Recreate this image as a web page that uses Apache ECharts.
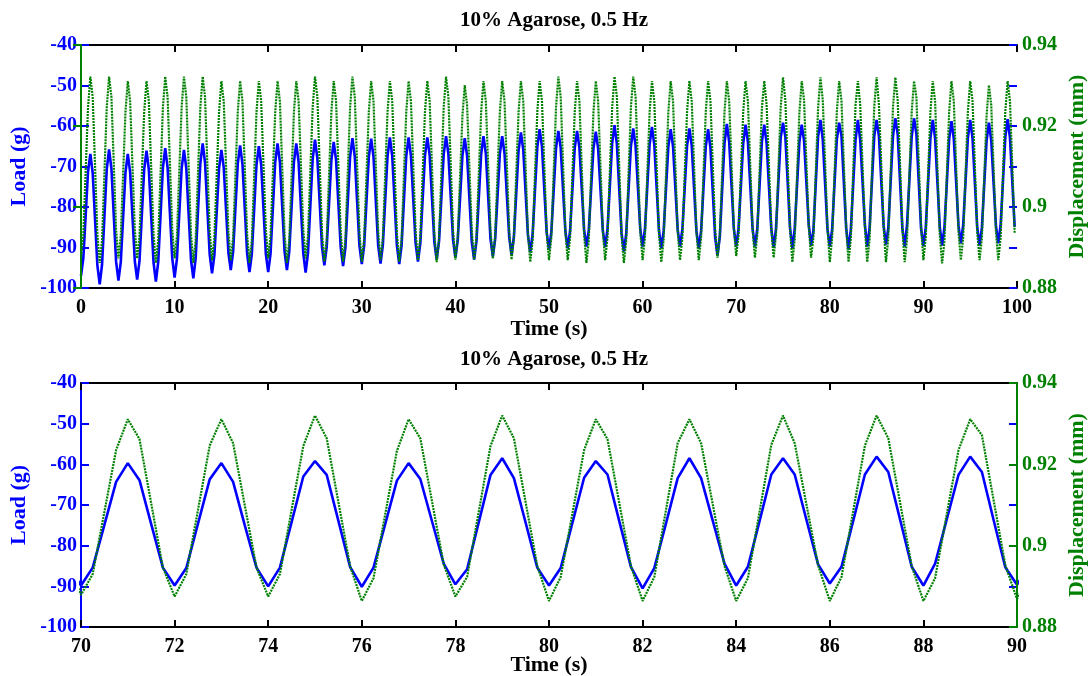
<!DOCTYPE html>
<html>
<head>
<meta charset="utf-8">
<script src="https://cdn.jsdelivr.net/npm/echarts@6/dist/echarts.min.js"></script>
<style>html,body{margin:0;padding:0;background:#fff}#c{width:1090px;height:676px}</style>
</head>
<body>
<div id="c"></div>
<script>
const chartTitle = "10% Agarose, 0.5 Hz";
const xName = "Time (s)";
const loadName = "Load (g)";
const dispName = "Displacement (mm)";
const sampleInterval = 0.25; // s, 8 samples per 2 s cycle
// Load (g), one row per 2 s cycle, starting at t = 0
const loadG = [
-97.0,-92.6,-82.0,-71.3,-66.9,-71.6,-83.0,-94.4,
-99.1,-94.2,-82.5,-70.7,-65.8,-70.5,-82.0,-93.5,
-98.2,-93.6,-82.6,-71.5,-66.9,-71.4,-82.4,-93.4,
-97.9,-93.3,-82.0,-70.7,-66.1,-70.8,-82.3,-93.7,
-98.4,-93.6,-82.0,-70.3,-65.5,-70.2,-81.5,-92.7,
-97.4,-92.8,-81.7,-70.5,-65.9,-70.5,-81.8,-93.0,
-97.6,-92.7,-81.0,-69.2,-64.3,-69.0,-80.4,-91.7,
-96.4,-91.9,-81.2,-70.4,-65.9,-70.2,-80.8,-91.3,
-95.6,-91.1,-80.2,-69.3,-64.8,-69.4,-80.5,-91.5,
-96.1,-91.6,-80.6,-69.5,-65.0,-69.5,-80.6,-91.6,
-96.1,-91.5,-80.2,-68.9,-64.3,-68.9,-80.0,-91.0,
-95.6,-91.0,-80.0,-68.9,-64.3,-69.0,-80.3,-91.5,
-96.2,-91.4,-79.8,-68.2,-63.4,-67.9,-78.9,-89.9,
-94.4,-89.9,-79.2,-68.4,-63.9,-68.4,-79.3,-90.1,
-94.6,-90.0,-78.8,-67.6,-63.0,-67.5,-78.6,-89.6,
-94.1,-89.6,-78.6,-67.6,-63.1,-67.6,-78.6,-89.5,
-94.0,-89.4,-78.4,-67.4,-62.8,-67.4,-78.5,-89.5,
-94.1,-89.5,-78.5,-67.4,-62.8,-67.3,-78.2,-89.0,
-93.5,-89.0,-78.2,-67.3,-62.8,-67.2,-77.9,-88.6,
-93.0,-88.5,-77.8,-67.0,-62.5,-66.9,-77.5,-88.1,
-92.5,-88.2,-77.8,-67.3,-63.0,-67.4,-78.0,-88.6,
-93.0,-88.5,-77.8,-67.0,-62.5,-66.8,-77.4,-87.9,
-92.2,-87.9,-77.4,-66.8,-62.5,-66.8,-77.2,-87.5,
-91.8,-87.4,-76.7,-66.0,-61.6,-65.9,-76.4,-86.9,
-91.2,-86.8,-76.0,-65.2,-60.8,-65.1,-75.7,-86.2,
-90.5,-86.2,-75.9,-65.5,-61.2,-65.4,-75.7,-86.0,
-90.2,-86.0,-75.7,-65.4,-61.2,-65.4,-75.5,-85.6,
-89.8,-85.7,-75.6,-65.5,-61.4,-65.6,-75.7,-85.7,
-89.9,-85.5,-74.9,-64.2,-59.8,-64.4,-75.4,-86.4,
-91.0,-86.6,-75.8,-65.0,-60.6,-64.9,-75.2,-85.5,
-89.8,-85.5,-75.0,-64.5,-60.2,-64.6,-75.2,-85.8,
-90.2,-85.9,-75.5,-65.1,-60.8,-65.0,-75.3,-85.6,
-89.8,-85.5,-75.2,-64.9,-60.6,-64.9,-75.4,-85.9,
-90.2,-85.9,-75.5,-65.1,-60.8,-65.4,-76.4,-87.4,
-92.0,-87.3,-75.8,-64.2,-59.5,-63.9,-74.7,-85.4,
-89.8,-85.4,-74.9,-64.3,-59.7,-63.9,-74.7,-85.4,
-89.8,-85.5,-74.6,-63.7,-59.7,-64.3,-75.0,-85.4,
-90.0,-85.4,-74.2,-63.0,-59.2,-62.6,-73.9,-85.2,
-90.1,-85.4,-74.7,-64.0,-59.7,-63.6,-74.0,-84.4,
-89.5,-85.8,-74.2,-62.6,-58.5,-63.4,-74.3,-85.4,
-89.8,-85.5,-74.4,-63.3,-59.2,-62.5,-73.9,-85.2,
-90.5,-85.5,-74.5,-63.4,-58.5,-63.4,-73.9,-84.4,
-89.8,-85.2,-73.9,-62.5,-58.5,-62.5,-73.6,-84.6,
-89.3,-85.2,-73.9,-62.5,-58.1,-61.9,-73.5,-85.2,
-89.8,-84.4,-73.5,-62.6,-58.1,-61.9,-73.7,-85.3,
-89.6,-85.1,-74.1,-63.0,-58.5,-63.0,-74.0,-85.0,
-89.5,-85.0,-74.2,-63.3,-58.8,-63.2,-73.9,-84.6,
-89.0,-84.5,-73.8,-63.0,-58.5,-63.0,-74.0,-85.0,
-89.5,-85.1,-74.4,-63.6,-59.2,-63.6,-74.1,-84.6,
-89.0,-84.5,-73.7,-62.8,-58.3,-62.9,-73.9,-84.9
];
// Displacement (mm), same sample times
const dispMm = [
.8877,.8932,.9090,.9246,.9322,.9272,.9102,.8932,
.8862,.8917,.9082,.9246,.9322,.9272,.9108,.8943,
.8873,.8928,.9082,.9235,.9311,.9261,.9102,.8943,
.8873,.8928,.9082,.9235,.9311,.9261,.9097,.8932,
.8862,.8917,.9082,.9246,.9322,.9272,.9108,.8943,
.8873,.8928,.9088,.9246,.9322,.9272,.9102,.8932,
.8862,.8917,.9082,.9246,.9322,.9272,.9105,.8938,
.8868,.8923,.9080,.9235,.9311,.9261,.9100,.8938,
.8868,.8923,.9080,.9235,.9311,.9261,.9097,.8932,
.8862,.8917,.9077,.9235,.9311,.9261,.9102,.8943,
.8873,.8928,.9082,.9235,.9311,.9261,.9097,.8932,
.8862,.8917,.9077,.9235,.9311,.9261,.9102,.8943,
.8873,.8928,.9088,.9246,.9322,.9272,.9104,.8935,
.8865,.8920,.9078,.9235,.9311,.9261,.9098,.8935,
.8865,.8920,.9084,.9246,.9322,.9272,.9104,.8935,
.8865,.8920,.9078,.9235,.9311,.9261,.9100,.8938,
.8868,.8923,.9080,.9235,.9311,.9261,.9098,.8935,
.8865,.8920,.9078,.9235,.9311,.9261,.9100,.8938,
.8868,.8923,.9080,.9235,.9311,.9261,.9098,.8934,
.8864,.8919,.9083,.9246,.9322,.9272,.9106,.8940,
.8870,.8925,.9076,.9225,.9301,.9251,.9096,.8940,
.8870,.8925,.9081,.9235,.9311,.9261,.9102,.8942,
.8872,.8927,.9082,.9235,.9311,.9261,.9101,.8940,
.8870,.8925,.9081,.9235,.9311,.9261,.9098,.8934,
.8864,.8919,.9078,.9235,.9311,.9261,.9100,.8939,
.8869,.8924,.9086,.9246,.9322,.9272,.9106,.8939,
.8869,.8924,.9080,.9235,.9311,.9261,.9097,.8932,
.8862,.8917,.9077,.9235,.9311,.9261,.9100,.8939,
.8869,.8924,.9086,.9246,.9322,.9272,.9102,.8932,
.8862,.8917,.9082,.9246,.9322,.9272,.9106,.8939,
.8869,.8924,.9080,.9235,.9311,.9261,.9098,.8934,
.8864,.8919,.9078,.9235,.9311,.9261,.9100,.8939,
.8869,.8924,.9080,.9235,.9311,.9261,.9100,.8939,
.8869,.8924,.9080,.9235,.9311,.9261,.9103,.8945,
.8875,.8930,.9083,.9235,.9311,.9261,.9105,.8949,
.8879,.8930,.9083,.9235,.9311,.9262,.9104,.8946,
.8875,.8930,.9088,.9246,.9311,.9252,.9099,.8946,
.8875,.8930,.9088,.9245,.9320,.9264,.9107,.8950,
.8864,.8920,.9077,.9233,.9311,.9264,.9109,.8954,
.8875,.8923,.9084,.9245,.9320,.9264,.9107,.8950,
.8864,.8923,.9079,.9235,.9311,.9262,.9106,.8950,
.8864,.8923,.9088,.9252,.9311,.9252,.9101,.8950,
.8864,.8920,.9084,.9248,.9320,.9252,.9102,.8952,
.8864,.8923,.9085,.9246,.9320,.9264,.9107,.8950,
.8864,.8920,.9078,.9235,.9311,.9272,.9112,.8952,
.8869,.8924,.9080,.9235,.9311,.9261,.9096,.8931,
.8861,.8916,.9076,.9235,.9311,.9261,.9100,.8939,
.8869,.8924,.9080,.9235,.9311,.9261,.9100,.8939,
.8869,.8924,.9075,.9225,.9301,.9251,.9095,.8939,
.8869,.8924,.9080,.9235,.9311,.9261,.9098,.8935
];
const topRange = [0, 100, 10];
const bottomRange = [70, 90, 2];
const loadTicks = [-100, -40, 10];
const dispTicks = [0.88, 0.94, 0.02];

const time = loadG.map((_, i) => i * sampleInterval);
const loadData = time.map((t, i) => [t, loadG[i]]);
const dispData = time.map((t, i) => [t, dispMm[i]]);

const BLUE = '#0000ff', GREEN = '#008000', BLACK = '#000';
const FONT = '"Liberation Serif", "Times New Roman", serif';
const lab = (c, s) => ({ color: c, fontFamily: FONT, fontWeight: 'bold', fontSize: s });

function xAxes(gi, r, gap) {
  return [
    { type: 'value', gridIndex: gi, min: r[0], max: r[1], interval: r[2], position: 'bottom',
      name: xName, nameLocation: 'middle', nameGap: gap, nameMoveOverlap: false, nameTextStyle: lab(BLACK, 22),
      axisLine: { lineStyle: { color: BLACK, width: 2 } },
      axisTick: { inside: true, length: 7, lineStyle: { color: BLACK, width: 2 } },
      axisLabel: Object.assign(lab(BLACK, 20), { margin: 10 }), splitLine: { show: false } },
    { type: 'value', gridIndex: gi, min: r[0], max: r[1], interval: r[2], position: 'top',
      axisLine: { lineStyle: { color: BLACK, width: 2 } },
      axisTick: { inside: true, length: 7, lineStyle: { color: BLACK, width: 2 } },
      axisLabel: { show: false }, splitLine: { show: false } }
  ];
}
function yAxes(gi) {
  return [
    { type: 'value', gridIndex: gi, min: loadTicks[0], max: loadTicks[1], interval: loadTicks[2], position: 'left',
      name: loadName, nameLocation: 'middle', nameRotate: 90, nameGap: 51, nameMoveOverlap: false, nameTextStyle: lab(BLUE, 22),
      axisLine: { show: true, lineStyle: { color: BLUE, width: 2 } },
      axisTick: { show: true, inside: true, length: 8, lineStyle: { color: BLUE, width: 2 } },
      axisLabel: Object.assign(lab(BLUE, 20), { margin: 4 }), splitLine: { show: false } },
    { type: 'value', gridIndex: gi, min: dispTicks[0], max: dispTicks[1], interval: dispTicks[2], position: 'right', z: 3,
      name: dispName, nameLocation: 'middle', nameRotate: 90, nameGap: 49, nameMoveOverlap: false, nameTextStyle: lab(GREEN, 22),
      axisLine: { show: true, lineStyle: { color: GREEN, width: 2 } },
      axisTick: { show: true, inside: true, length: 8, lineStyle: { color: GREEN, width: 2 } },
      axisLabel: Object.assign(lab(GREEN, 20), { margin: 5 }), splitLine: { show: false } },
    { type: 'value', gridIndex: gi, min: loadTicks[0], max: loadTicks[1], interval: loadTicks[2], position: 'right', z: 1,
      axisLine: { show: false },
      axisTick: { show: true, inside: true, length: 8, lineStyle: { color: BLUE, width: 2 } },
      axisLabel: { show: false }, splitLine: { show: false } }
  ];
}
function series(gi) {
  return [
    { type: 'line', xAxisIndex: gi * 2, yAxisIndex: gi * 3, data: loadData, showSymbol: false, clip: true,
      lineStyle: { color: BLUE, width: 2.6 }, z: 2 },
    { type: 'line', xAxisIndex: gi * 2, yAxisIndex: gi * 3 + 1, data: dispData, showSymbol: false, clip: true,
      lineStyle: { color: GREEN, width: 2.2, type: [2, 1] }, z: 3 }
  ];
}

const chart = echarts.init(document.getElementById('c'), null, { renderer: 'canvas' });
chart.setOption({
  animation: false,
  backgroundColor: '#fff',
  title: [
    { text: chartTitle, left: 549, top: 5, textAlign: 'center', textStyle: lab(BLACK, 21) },
    { text: chartTitle, left: 549, top: 344, textAlign: 'center', textStyle: lab(BLACK, 21) }
  ],
  grid: [
    { left: 81, right: 73, top: 45, height: 243, containLabel: false, outerBoundsMode: 'none' },
    { left: 81, right: 73, top: 383, height: 244, containLabel: false, outerBoundsMode: 'none' }
  ],
  xAxis: [...xAxes(0, topRange, 30), ...xAxes(1, bottomRange, 27)],
  yAxis: [...yAxes(0), ...yAxes(1)],
  series: [...series(0), ...series(1)]
});
</script>
</body>
</html>
